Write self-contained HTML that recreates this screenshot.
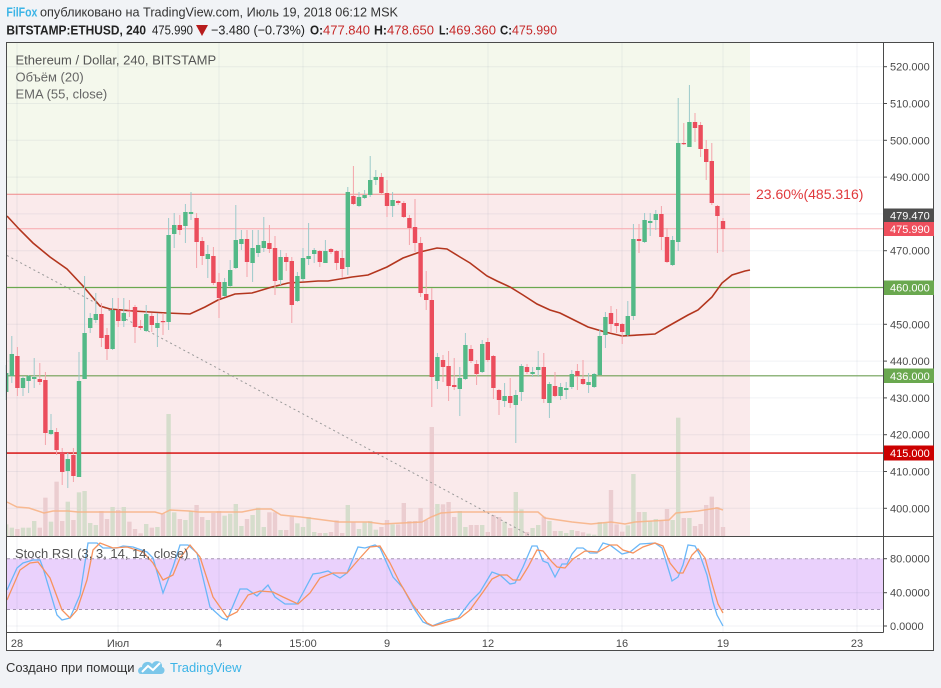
<!DOCTYPE html>
<html><head><meta charset="utf-8">
<style>
html,body{margin:0;padding:0;}
body{width:941px;height:688px;background:#f1f3f6;overflow:hidden;position:relative;font-family:"Liberation Sans","DejaVu Sans",sans-serif;}
svg{position:absolute;left:0;top:0;}
</style></head><body>
<svg id="s" width="941" height="688" viewBox="0 0 941 688" xmlns="http://www.w3.org/2000/svg" font-family="Liberation Sans, DejaVu Sans, sans-serif">
<!-- header -->
<text x="6.4" y="16.5" font-size="13" font-weight="bold" fill="#3bb4e6" textLength="31" lengthAdjust="spacingAndGlyphs">FilFox</text>
<text x="40" y="16.5" font-size="13" fill="#333" textLength="358" lengthAdjust="spacingAndGlyphs">опубликовано на TradingView.com, Июль 19, 2018 06:12 MSK</text>
<g font-size="13" fill="#222">
<text x="6.4" y="34.5" font-weight="bold" textLength="139.6" lengthAdjust="spacingAndGlyphs">BITSTAMP:ETHUSD, 240</text>
<text x="152" y="34.5" textLength="41" lengthAdjust="spacingAndGlyphs">475.990</text>
<polygon points="196,25 208,25 202,36" fill="#b71c1c"/>
<text x="211" y="34.5" textLength="94" lengthAdjust="spacingAndGlyphs">−3.480 (−0.73%)</text>
<text x="310" y="34.5" font-weight="bold" textLength="13" lengthAdjust="spacingAndGlyphs">O:</text>
<text x="323" y="34.5" fill="#c62828" textLength="47" lengthAdjust="spacingAndGlyphs">477.840</text>
<text x="374" y="34.5" font-weight="bold" textLength="13" lengthAdjust="spacingAndGlyphs">H:</text>
<text x="387" y="34.5" fill="#c62828" textLength="47" lengthAdjust="spacingAndGlyphs">478.650</text>
<text x="439" y="34.5" font-weight="bold" textLength="10" lengthAdjust="spacingAndGlyphs">L:</text>
<text x="449" y="34.5" fill="#c62828" textLength="47" lengthAdjust="spacingAndGlyphs">469.360</text>
<text x="500" y="34.5" font-weight="bold" textLength="12" lengthAdjust="spacingAndGlyphs">C:</text>
<text x="512" y="34.5" fill="#c62828" textLength="45" lengthAdjust="spacingAndGlyphs">475.990</text>
</g>

<!-- chart frame background -->
<rect x="6" y="42" width="928" height="609" fill="#ffffff"/>
<rect x="7" y="43" width="743" height="151.3" fill="#f4f8ec"/>
<rect x="7" y="194.3" width="743" height="342" fill="#faeaeb"/>
<rect x="7" y="558.7" width="876" height="50.8" fill="#ead1fc"/>
<g id="grid" stroke="#5a6e8c" stroke-opacity="0.09" stroke-width="1"></g>
<g id="vol"></g>
<polyline id="vma" fill="none" stroke="#f7b487" stroke-width="1.5" stroke-opacity="0.9"/>
<!-- horizontal lines -->
<line x1="7" x2="750" y1="194.3" y2="194.3" stroke="#f08a8a" stroke-width="1"/>
<line x1="7" x2="883" y1="228.7" y2="228.7" stroke="#f7a8ad" stroke-width="1"/>
<line x1="7" x2="883" y1="287.5" y2="287.5" stroke="#6aa84f" stroke-width="1.2"/>
<line x1="7" x2="883" y1="375.8" y2="375.8" stroke="#6f9f55" stroke-width="1.2"/>
<line x1="7" x2="883" y1="453.1" y2="453.1" stroke="#d40000" stroke-width="1.4"/>
<line x1="7" y1="255.5" x2="531" y2="536" stroke="#9a9a9a" stroke-width="1" stroke-dasharray="2,3"/>
<polyline id="ema" fill="none" stroke="#b3361e" stroke-width="1.6"/>
<g id="candles"></g>
<text x="756" y="199" font-size="14" fill="#e0393c">23.60%(485.316)</text>

<!-- legend -->
<g font-size="13" fill="#555">
<text x="15.5" y="64.5">Ethereum / Dollar, 240, BITSTAMP</text>
<text x="15.5" y="81.5" fill="#666">Объём (20)</text>
<text x="15.5" y="98.5" fill="#666">EMA (55, close)</text>
</g>

<!-- stoch pane -->
<line x1="7" x2="883" y1="558.7" y2="558.7" stroke="#a596b4" stroke-dasharray="3,3"/>
<line x1="7" x2="883" y1="609.5" y2="609.5" stroke="#a596b4" stroke-dasharray="3,3"/>
<polyline id="k" fill="none" stroke="#6ab7f8" stroke-width="1.3"/>
<polyline id="d" fill="none" stroke="#f7935e" stroke-width="1.3"/>
<text x="15" y="558" font-size="13" fill="#555">Stoch RSI (3, 3, 14, 14, close)</text>

<!-- axes -->
<line x1="883.5" x2="883.5" y1="42" y2="632.5" stroke="#4a4a4a"/>
<line x1="6" x2="934" y1="536.5" y2="536.5" stroke="#4a4a4a"/>
<line x1="6" x2="883.5" y1="632.5" y2="632.5" stroke="#4a4a4a"/>
<rect x="6.5" y="42.5" width="927" height="608" fill="none" stroke="#4a4a4a"/>
<g id="axis" font-size="11" fill="#4a4a4a"></g>
<!-- price boxes -->
<g font-size="11" fill="#fff">
<rect x="884" y="208.5" width="50" height="14" fill="#4d4d4d"/><text x="890" y="219.5">479.470</text>
<rect x="884" y="222" width="50" height="14" fill="#ef4f5d"/><text x="890" y="233">475.990</text>
<rect x="884" y="280.5" width="50" height="14.5" fill="#6aa84f"/><text x="890" y="291.5">460.000</text>
<rect x="884" y="368.5" width="50" height="14.5" fill="#6aa84f"/><text x="890" y="380">436.000</text>
<rect x="884" y="445.5" width="50" height="15" fill="#cc0000"/><text x="890" y="457">415.000</text>
</g>
<g font-size="11" fill="#4a4a4a" text-anchor="middle">
<text x="17" y="647">28</text>
<text x="118" y="647">Июл</text>
<text x="219" y="647">4</text>
<text x="303" y="647">15:00</text>
<text x="387" y="647">9</text>
<text x="488" y="647">12</text>
<text x="622" y="647">16</text>
<text x="723" y="647">19</text>
<text x="857" y="647">23</text>
</g>

<!-- footer -->
<text x="6" y="672" font-size="13" fill="#333">Создано при помощи</text>
<g>
<path d="M141,674 C137,674 137,667 142,667 C142,662 149,660 152,664 C155,659 163,661 162,667 C166,668 165,674 161,674 Z" fill="#7cc7ea"/>
<polyline points="142,672 148,666 153,670 160,663" fill="none" stroke="#ffffff" stroke-width="2"/>
</g>
<text x="170" y="672" font-size="13" fill="#3cb4e7">TradingView</text>
</svg>
<script>
(function(){
var NS="http://www.w3.org/2000/svg";
function el(t,a,p){var e=document.createElementNS(NS,t);for(var k in a)e.setAttribute(k,a[k]);p.appendChild(e);return e;}
var X0=11.8,DX=5.6;
var g=document.getElementById('grid');
for(var k=0;k<13;k++){var y=66.7+36.8*k;el('line',{x1:7,x2:883,y1:y,y2:y},g);}
[592.7,626].forEach(function(y){el('line',{x1:7,x2:883,y1:y,y2:y},g);});
[17,118,219,303,387,488,622,723,857].forEach(function(x){el('line',{x1:x,x2:x,y1:43,y2:536},g);el('line',{x1:x,x2:x,y1:537,y2:632},g);});
var C=[[392,365,400,373],[376,336,383,354],[356,347,396,388],[388,376,396,378],[381,375,393,376],[379,358,388,377],[379,363,385,382],[380,372,445,433],[434,414,435,430],[432,428,455,450],[452,448,485,472],[471,453,488,459],[455,448,482,476],[477,352,477,381],[379,276,379,333],[328,313,333,318],[320,293,323,314],[314,303,347,338],[335,328,360,349],[349,298,350,310],[310,298,327,321],[321,298,327,313],[310,300,317,311],[307,305,343,327],[326,320,330,328],[331,305,332,314],[316,313,332,325],[328,313,347,323],[321,313,335,322],[322,218,330,235],[234,213,248,225],[225,215,235,230],[226,204,243,212],[214,192,220,212],[218,213,268,242],[241,237,265,256],[259,245,278,254],[256,247,285,283],[282,273,318,298],[296,278,297,282],[286,260,287,270],[268,205,269,240],[244,230,250,239],[239,230,277,262],[263,230,282,248],[253,230,257,245],[248,217,252,241],[243,225,253,249],[248,236,295,281],[280,250,285,257],[257,253,271,262],[261,257,323,305],[301,272,302,276],[279,248,281,258],[259,223,265,256],[254,248,263,250],[251,250,267,262],[263,240,263,251],[249,248,254,252],[251,250,270,263],[258,250,278,269],[267,187,275,192],[196,166,205,204],[206,192,207,197],[198,190,199,195],[195,156,197,180],[180,170,185,177],[177,173,195,193],[193,180,217,206],[206,192,217,200],[201,200,205,203],[203,201,218,217],[218,215,245,228],[227,199,252,243],[243,237,297,293],[294,271,310,300],[300,288,407,377],[381,353,389,357],[360,355,382,367],[366,351,401,386],[385,358,390,387],[389,367,416,378],[379,333,380,345],[349,345,363,361],[364,360,385,374],[372,340,373,344],[342,338,362,360],[356,355,399,388],[390,389,415,400],[401,383,407,396],[396,378,408,403],[405,390,443,395],[392,364,401,366],[367,364,374,372],[374,367,377,372],[370,351,377,367],[367,353,403,399],[403,382,418,384],[386,372,397,396],[396,383,400,387],[390,382,399,388],[387,370,389,374],[371,364,390,376],[379,360,385,384],[385,373,393,382],[387,373,388,374],[375,329,375,336],[335,312,348,317],[313,306,333,324],[323,309,333,326],[324,323,344,332],[335,301,337,316],[316,224,320,239],[239,224,253,241],[242,213,243,220],[223,213,236,221],[220,210,230,214],[214,206,250,237],[237,228,263,262],[265,236,266,240],[242,98,251,143],[143,123,145,144],[147,85,147,122],[122,113,142,128],[125,122,157,149],[149,140,180,162],[161,143,205,203],[206,205,253,216],[221,218,252,229]];
var V=[358,368,372,368,368,348,368,278,350,230,348,290,345,262,258,354,360,318,342,306,315,306,350,372,385,357,368,366,326,27,322,342,345,318,300,336,345,324,318,332,326,297,363,342,330,308,366,322,322,375,375,335,355,366,336,381,384,384,381,346,384,300,351,372,352,348,374,366,345,358,358,294,348,348,309,345,66,297,298,291,336,318,366,360,360,360,381,330,336,350,369,261,313,381,369,360,335,348,378,378,384,375,378,382,386,389,351,354,255,358,380,361,207,321,321,348,342,345,312,345,38,339,339,363,357,300,275,306,366];
var vg=document.getElementById('vol'),cg=document.getElementById('candles');
for(var j=0;j<C.length;j++){
 var i=j-1,x=X0+DX*i,c=C[j],up=c[3]<c[0];
 var vt=405+V[j]/3, xl=Math.max(7,x-2.2), w=x+2.2-xl;
 el('rect',{x:xl,y:vt,width:w,height:536-vt,fill:up?'#d6ddcc':'#ebcdd0'},vg);
 el('line',{x1:x,x2:x,y1:c[1],y2:c[2],stroke:up?'#9ccacb':'#f4a3aa','stroke-width':1},cg);
 var top=Math.min(c[0],c[3]),h=Math.max(1.2,Math.abs(c[0]-c[3]));
 el('rect',{x:xl,y:top,width:w,height:h,fill:up?'#53b987':'#eb4d5c'},cg);
}
function pts(a){return a.map(function(p){return p[0]+','+p[1];}).join(' ');}
document.getElementById('vma').setAttribute('points',pts([[7,502],[17,507],[29,508],[44,513],[53,511],[68,511],[78,512],[85,512],[97,512],[155,512],[162,514],[170,510],[189,511],[199,512],[242,512],[257,509],[271,509],[281,515],[301,517],[339,522],[368,522],[383,524],[402,523],[422,522],[431,517],[441,513],[456,512],[475,512],[538,512],[545,518],[572,522],[591,524],[611,522],[625,524],[635,522],[669,520],[676,513],[698,511],[717,508],[723,510]]));
document.getElementById('ema').setAttribute('points',pts([[7,216],[20,230],[33,243],[50,257],[67,269],[83,286],[100,306],[110,309],[133,311],[167,313],[190,314],[205,307],[218,300],[235,294],[252,293],[272,287],[288,283],[305,282],[318,281],[328,281],[352,277],[368,275],[387,267],[403,258],[420,252],[437,248],[447,249],[460,257],[470,263],[487,276],[497,281],[510,287],[523,295],[537,304],[550,310],[560,313],[568,317],[588,327],[605,332],[622,336],[655,334],[665,328],[688,315],[698,310],[712,297],[722,283],[732,275],[745,271],[750,270]]));
document.getElementById('k').setAttribute('points',pts([[7,590],[17,568],[23,563],[33,560],[40,560],[43,568],[57,615],[62,620],[70,618],[80,595],[88,543],[97,543],[103,548],[117,548],[123,546],[133,547],[147,552],[153,558],[163,593],[173,567],[180,545],[188,545],[197,553],[210,607],[222,618],[227,620],[240,589],[247,589],[257,596],[268,585],[275,597],[285,604],[297,604],[313,574],[320,573],[328,571],[340,578],[347,573],[358,547],[365,548],[375,545],[380,548],[393,577],[403,588],[415,610],[423,622],[432,626],[447,620],[458,618],[470,602],[480,592],[492,572],[500,575],[510,584],[515,583],[523,567],[532,546],[537,546],[543,561],[548,563],[555,577],[562,564],[567,564],[572,554],[577,548],[583,548],[590,553],[597,553],[603,543],[610,545],[622,554],[630,552],[640,544],[655,543],[662,548],[672,581],[678,577],[683,565],[688,545],[695,546],[700,555],[707,575],[713,602],[717,615],[723,626]]));
document.getElementById('d').setAttribute('points',pts([[7,600],[20,570],[30,563],[38,562],[50,578],[62,610],[70,618],[77,610],[87,580],[93,550],[100,543],[113,548],[127,547],[143,552],[153,563],[163,580],[173,575],[180,558],[190,545],[200,557],[213,597],[227,617],[237,612],[248,595],[260,591],[273,592],[283,597],[298,604],[310,593],[320,578],[333,573],[347,573],[360,558],[370,547],[380,546],[390,563],[400,583],[413,605],[427,623],[433,626],[447,622],[460,618],[470,610],[483,592],[492,579],[500,575],[507,575],[513,580],[520,580],[528,567],[537,550],[543,551],[552,562],[557,567],[565,568],[573,559],[585,551],[598,552],[610,545],[617,545],[623,550],[633,553],[643,547],[655,543],[663,546],[670,563],[678,573],[683,573],[692,555],[698,549],[705,558],[713,587],[718,604],[723,613]]));
var ax=document.getElementById('axis');
var labs={520:1,510:1,500:1,490:1,470:1,450:1,440:1,430:1,420:1,410:1,400:1};
for(var p=520;p>=400;p-=10){var y=66.7+(520-p)*3.68;el('line',{x1:883,x2:887,y1:y,y2:y,stroke:'#4a4a4a'},ax);
 if(labs[p]){var t=el('text',{x:890,y:y+4},ax);t.textContent=p+'.000';}}
[[80,558.7],[40,592.7],[0,626]].forEach(function(a){el('line',{x1:883,x2:887,y1:a[1],y2:a[1],stroke:'#4a4a4a'},ax);var t=el('text',{x:890,y:a[1]+4},ax);t.textContent=a[0].toFixed(4);});
})();
</script>
</body></html>
